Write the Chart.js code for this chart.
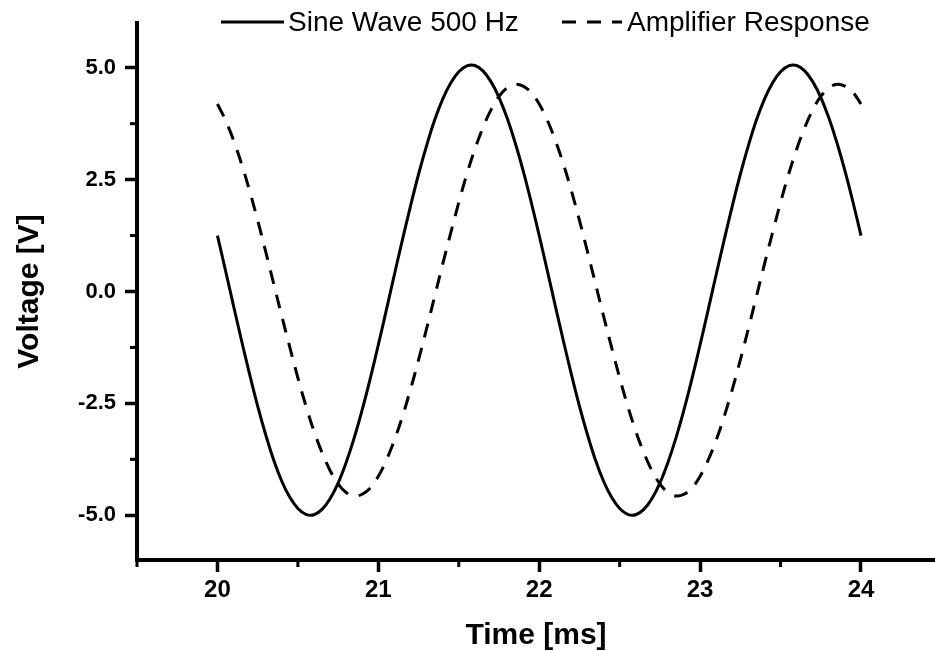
<!DOCTYPE html>
<html>
<head>
<meta charset="utf-8">
<script src="https://cdn.jsdelivr.net/npm/chart.js@4"></script>
<style>
html,body{margin:0;padding:0;background:#fff;}
#wrap{position:relative;width:935px;height:651px;}
</style>
</head>
<body>
<div id="wrap"><canvas id="c"></canvas></div>
<script>
// ---- Data (time in ms, voltage in V) ----
const timeMs = [
 20.00,20.05,20.10,20.15,20.20,20.25,20.30,20.35,20.40,20.45,
 20.50,20.55,20.60,20.65,20.70,20.75,20.80,20.85,20.90,20.95,
 21.00,21.05,21.10,21.15,21.20,21.25,21.30,21.35,21.40,21.45,
 21.50,21.55,21.60,21.65,21.70,21.75,21.80,21.85,21.90,21.95,
 22.00,22.05,22.10,22.15,22.20,22.25,22.30,22.35,22.40,22.45,
 22.50,22.55,22.60,22.65,22.70,22.75,22.80,22.85,22.90,22.95,
 23.00,23.05,23.10,23.15,23.20,23.25,23.30,23.35,23.40,23.45,
 23.50,23.55,23.60,23.65,23.70,23.75,23.80,23.85,23.90,23.95,
 24.00
];
const sineWave = [
 1.25,0.47,-0.32,-1.10,-1.85,-2.56,-3.20,-3.77,-4.24,-4.60,
 -4.85,-4.98,-4.99,-4.87,-4.63,-4.28,-3.82,-3.27,-2.64,-1.94,
 -1.19,-0.41,0.38,1.16,1.91,2.62,3.26,3.83,4.30,4.66,
 4.91,5.04,5.05,4.93,4.69,4.34,3.88,3.33,2.70,2.00,
 1.25,0.47,-0.32,-1.10,-1.85,-2.56,-3.20,-3.77,-4.24,-4.60,
 -4.85,-4.98,-4.99,-4.87,-4.63,-4.28,-3.82,-3.27,-2.64,-1.94,
 -1.19,-0.41,0.38,1.16,1.91,2.62,3.26,3.83,4.30,4.66,
 4.91,5.04,5.05,4.93,4.69,4.34,3.88,3.33,2.70,2.00,
 1.25
];
const amplifierResponse = [
 4.19,3.83,3.38,2.85,2.25,1.59,0.89,0.17,-0.55,-1.25,
 -1.93,-2.56,-3.12,-3.60,-4.00,-4.30,-4.49,-4.57,-4.53,-4.39,
 -4.13,-3.77,-3.32,-2.79,-2.19,-1.53,-0.83,-0.11,0.61,1.31,
 1.99,2.62,3.18,3.66,4.06,4.36,4.55,4.63,4.59,4.45,
 4.19,3.83,3.38,2.85,2.25,1.59,0.89,0.17,-0.55,-1.25,
 -1.93,-2.56,-3.12,-3.60,-4.00,-4.30,-4.49,-4.57,-4.53,-4.39,
 -4.13,-3.77,-3.32,-2.79,-2.19,-1.53,-0.83,-0.11,0.61,1.31,
 1.99,2.62,3.18,3.66,4.06,4.36,4.55,4.63,4.59,4.45,
 4.19
];
const seriesNames = ["Sine Wave 500 Hz", "Amplifier Response"];
const xMajorTicks = [20, 21, 22, 23, 24];
const xMinorTicks = [19.5, 20.5, 21.5, 22.5, 23.5];
const yMajorTicks = [-5.0, -2.5, 0.0, 2.5, 5.0];
const yMinorTicks = [-3.75, -1.25, 1.25, 3.75];
const xTitle = "Time [ms]";
const yTitle = "Voltage [V]";

const FONT = "'Liberation Sans', Arial, sans-serif";
const DASH = [14, 11];

const toPoints = (xs, ys) => xs.map((x, i) => ({x: x, y: ys[i]}));

const minorTickPlugin = {
  id: 'minorTicks',
  afterDraw(chart) {
    const ctx = chart.ctx, ca = chart.chartArea;
    const xs = chart.scales.x, ys = chart.scales.y;
    ctx.save();
    ctx.strokeStyle = '#000';
    ctx.lineWidth = 3;
    ctx.lineCap = 'butt';
    xMinorTicks.forEach(v => {
      const px = xs.getPixelForValue(v);
      ctx.beginPath(); ctx.moveTo(px, ca.bottom); ctx.lineTo(px, ca.bottom + 7); ctx.stroke();
    });
    yMinorTicks.forEach(v => {
      const py = ys.getPixelForValue(v);
      ctx.beginPath(); ctx.moveTo(ca.left, py); ctx.lineTo(ca.left - 7, py); ctx.stroke();
    });
    ctx.restore();
  }
};

const legendPlugin = {
  id: 'topLegend',
  afterDraw(chart) {
    const ctx = chart.ctx;
    const ds = chart.data.datasets;
    const y = 22;
    const items = [
      {x0: 221, x1: 284, tx: 288, d: ds[0]},
      {x0: 562, x1: 622, tx: 627, d: ds[1]}
    ];
    ctx.save();
    ctx.font = "28px " + FONT;
    ctx.textBaseline = 'middle';
    ctx.textAlign = 'left';
    ctx.fillStyle = '#000';
    items.forEach(it => {
      ctx.beginPath();
      ctx.strokeStyle = it.d.borderColor;
      ctx.lineWidth = it.d.borderWidth;
      ctx.setLineDash(it.d.borderDash || []);
      ctx.moveTo(it.x0, y); ctx.lineTo(it.x1, y); ctx.stroke();
      ctx.setLineDash([]);
      ctx.fillText(it.d.label, it.tx, y + 1);
    });
    ctx.restore();
  }
};

new Chart(document.getElementById('c'), {
  type: 'line',
  data: {
    datasets: [
      {
        label: seriesNames[0],
        data: toPoints(timeMs, sineWave),
        borderColor: '#000',
        borderWidth: 3,
        pointRadius: 0,
        tension: 0.35,
        fill: false
      },
      {
        label: seriesNames[1],
        data: toPoints(timeMs, amplifierResponse),
        borderColor: '#000',
        borderWidth: 3,
        borderDash: DASH,
        pointRadius: 0,
        tension: 0.35,
        fill: false
      }
    ]
  },
  options: {
    responsive: true,
    maintainAspectRatio: false,
    animation: false,
    devicePixelRatio: 1,
    layout: {padding: {top: 23, right: 0, bottom: 0, left: 0}},
    plugins: {
      legend: {display: false},
      tooltip: {enabled: false}
    },
    scales: {
      x: {
        type: 'linear',
        min: 19.5,
        max: 24.46,
        afterBuildTicks: s => { s.ticks = xMajorTicks.map(v => ({value: v})); },
        afterFit: s => { s.height = 91; },
        grid: {display: true, drawOnChartArea: false, drawTicks: true, tickLength: 12, tickWidth: 3.5, tickColor: '#000'},
        border: {display: true, color: '#000', width: 4},
        ticks: {
          color: '#000',
          font: {family: FONT, size: 24, weight: 'bold'},
          padding: 4,
          maxRotation: 0,
          autoSkip: false,
          callback: v => String(v)
        },
        title: {
          display: true,
          text: xTitle,
          color: '#000',
          font: {family: FONT, size: 30, weight: 'bold', lineHeight: 1},
          padding: {top: 0, bottom: 0}
        }
      },
      y: {
        type: 'linear',
        min: -6,
        max: 6,
        afterBuildTicks: s => { s.ticks = yMajorTicks.map(v => ({value: v})); },
        afterFit: s => { s.width = 137; },
        grid: {display: true, drawOnChartArea: false, drawTicks: true, tickLength: 12, tickWidth: 3.5, tickColor: '#000'},
        border: {display: true, color: '#000', width: 4},
        ticks: {
          color: '#000',
          font: {family: FONT, size: 22, weight: 'bold'},
          padding: 9,
          autoSkip: false,
          callback: v => Number(v).toFixed(1)
        },
        title: {
          display: true,
          text: yTitle,
          color: '#000',
          font: {family: FONT, size: 30, weight: 'bold', lineHeight: 1},
          padding: {top: 15, bottom: 0}
        }
      }
    }
  },
  plugins: [minorTickPlugin, legendPlugin]
});
</script>
</body>
</html>
